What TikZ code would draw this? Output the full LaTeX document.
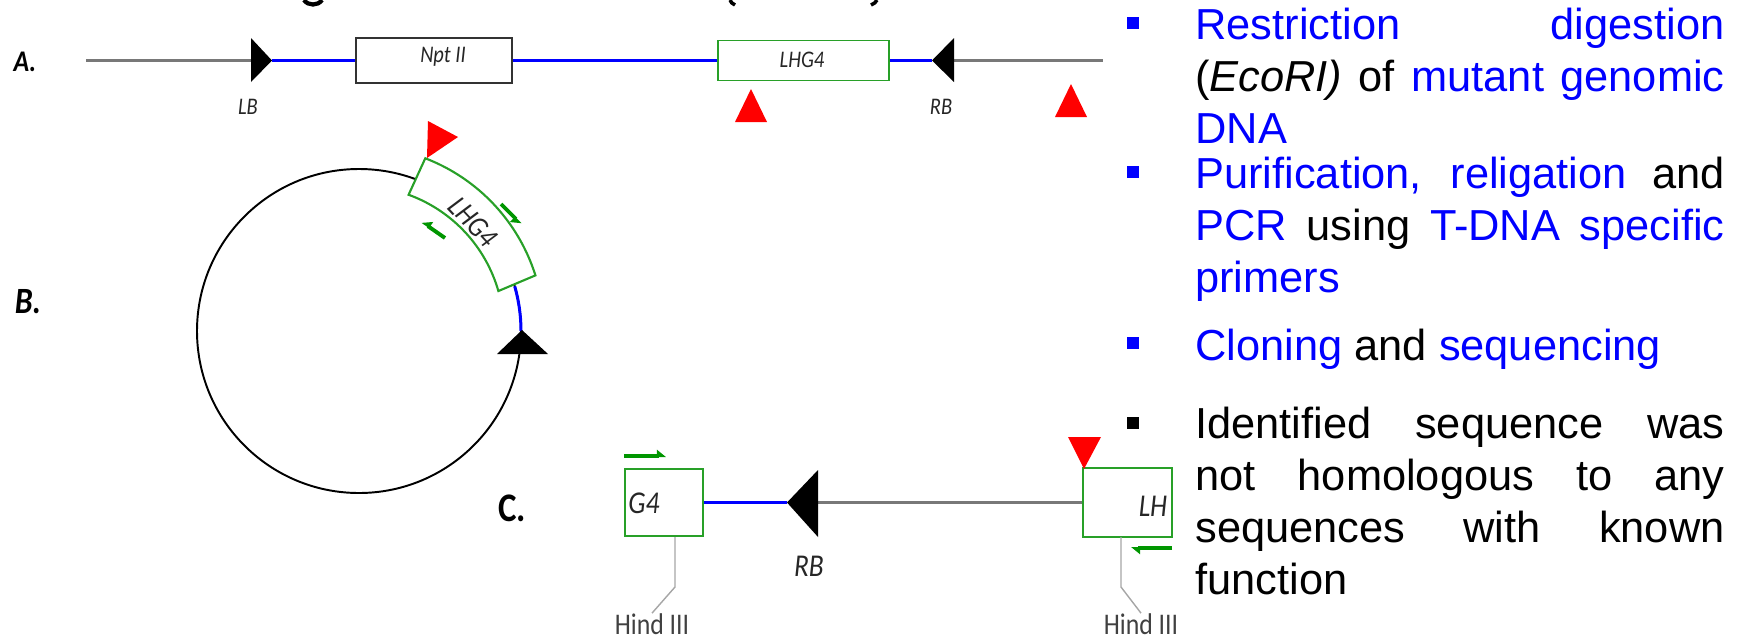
\documentclass[tikz,border=0pt]{standalone}
\usepackage{fontspec}
\setmainfont{Liberation Sans}
\newfontfamily\labelfont[FakeStretch=0.86]{Carlito}
\usetikzlibrary{arrows.meta}
\definecolor{tdnablue}{RGB}{0,0,255}
\definecolor{genegreen}{RGB}{40,160,40}
\definecolor{primergreen}{RGB}{0,150,0}
\definecolor{backbone}{RGB}{120,120,120}
\newcommand{\fitline}[1]{\makebox[300pt][s]{#1}}
\newcommand{\bl}[1]{\textcolor{tdnablue}{#1}}
\tikzset{
  tdna/.style={draw=tdnablue,line width=1.7pt},
  vector/.style={draw=backbone,line width=1.5pt},
  genebox/.style={draw=genegreen,line width=1.1pt,inner sep=0pt},
  markerbox/.style={draw=black!80,line width=1.1pt,inner sep=0pt},
  primer/.style={draw=primergreen,line width=2.2pt,-{Stealth[harpoon,length=4.5pt,width=7pt,inset=0pt]}},
  primerswap/.style={draw=primergreen,line width=2.2pt,-{Stealth[harpoon,swap,length=4.5pt,width=7pt,inset=0pt]}},
  site/.style={draw=black!35,line width=.8pt},
  partlabel/.style={font=\labelfont\bfseries,inner sep=0pt},
  smalllabel/.style={font=\labelfont\itshape\fontsize{13.5}{13.5}\selectfont,inner sep=0pt,text=black!85},
  biglabel/.style={font=\labelfont\itshape\fontsize{18}{18}\selectfont,inner sep=0pt,text=black!85},
  sitelabel/.style={font=\labelfont\fontsize{17}{17}\selectfont,inner sep=0pt,text=black!75},
  bodytext/.style={anchor=north west,align=left,inner sep=0pt,font=\fontsize{24.6}{29.48}\selectfont},
  bulletmark/.style={fill=#1,inner sep=0pt,minimum size=6.8pt}
}
\begin{document}
\begin{tikzpicture}[x=0.5669pt,y=-0.5669pt]
  \useasboundingbox (0,0) rectangle (1739,638);
  \draw[line width=2.4pt] (304,0) .. controls (308,6) and (318,6) .. (322,0);
  \draw[line width=2pt] (730,0) .. controls (731,2) and (732,4) .. (735,5);
  \draw[line width=2pt] (877,0) .. controls (876,2) and (874,4) .. (871,5);

  \node[partlabel,font=\labelfont\bfseries\itshape\fontsize{17}{17}\selectfont] (parta) at (25,62) {A.};
  \node[markerbox,minimum width=88.4pt,minimum height=25.5pt] (nptbox) at (434,60.5) {};
  \node[genebox,minimum width=96.9pt,minimum height=22.7pt] (lhgbox) at (803.5,60.5) {};
  \node[smalllabel] (nptlabel) at (443,57) {Npt II};
  \node[smalllabel] (lhglabel) at (802,60) {LHG4};
  \node[smalllabel] (lblabel) at (248,107) {LB};
  \node[smalllabel] (rblabel) at (941,107) {RB};
  \coordinate (aleft) at (86,60.5);
  \coordinate (aright) at (1103,60.5);
  \coordinate (lbtip) at (272,60.5);
  \coordinate (lbbase) at (251,60.5);
  \coordinate (rbtip) at (932,60.5);
  \coordinate (rbbase) at (954,60.5);
  \draw[vector] (aleft) -- (lbbase);
  \draw[tdna] (lbtip) -- (nptbox);
  \draw[tdna] (nptbox) -- (lhgbox);
  \draw[tdna] (lhgbox) -- (rbtip);
  \draw[vector] (rbbase) -- (aright);
  \fill (251,38) -- (lbtip) -- (251,82) -- cycle;
  \fill (954,38) -- (rbtip) -- (954,82) -- cycle;
  \fill[red] (735,122) -- (751,89) -- (767,122) -- cycle;
  \fill[red] (1055,117) -- (1071,84) -- (1087,117) -- cycle;

  \node[partlabel,font=\labelfont\bfseries\itshape\fontsize{21}{21}\selectfont] (partb) at (28,302) {B.};
  \coordinate (ringcentre) at (359,331);
  \draw[black,line width=1.1pt] (ringcentre) circle[radius=162];
  \draw[tdna] ([shift={(-16:162)}]ringcentre) arc[start angle=-16,end angle=0,radius=162];
  \draw[genegreen,line width=1.2pt,fill=white] ([shift={(-69:185)}]ringcentre) arc[start angle=-69,end angle=-17.5,radius=185]
    -- ([shift={(-16:145)}]ringcentre) arc[start angle=-16,end angle=-70,radius=145] -- cycle;
  \node[smalllabel,rotate=-47,font=\labelfont\itshape\fontsize{17}{17}\selectfont] (ringlabel) at (473,222) {LHG4};
  \coordinate (outerfrom) at (501,204);
  \coordinate (outerto) at (521,224);
  \coordinate (innerfrom) at (445,238);
  \coordinate (innerto) at (422,222);
  \draw[primerswap] (outerfrom) -- (outerto);
  \draw[primerswap] (innerfrom) -- (innerto);
  \fill[red] (428,121) -- (458,137) -- (427,158) -- cycle;
  \fill (522,330) -- (548,354) -- (497,354) -- cycle;

  \node[partlabel,font=\labelfont\bfseries\fontsize{23}{23}\selectfont] (partc) at (512,508) {C.};
  \node[genebox,minimum width=44.2pt,minimum height=38.5pt] (gfourbox) at (664,502.5) {};
  \node[genebox,minimum width=50.4pt,minimum height=39pt] (lhbox) at (1127.5,502.5) {};
  \node[biglabel] (gfourlabel) at (644,503) {G4};
  \node[biglabel] (lhlabel) at (1153,506) {LH};
  \node[biglabel] (rbclabel) at (809,566) {RB};
  \coordinate (rbctip) at (787,502.5);
  \coordinate (rbcbase) at (818,502.5);
  \draw[tdna,line width=2pt] (gfourbox) -- (rbctip);
  \draw[vector] (rbcbase) -- (lhbox);
  \fill (818,470) -- (rbctip) -- (818,537) -- cycle;
  \fill[red] (1068,437) -- (1101,437) -- (1084,469) -- cycle;
  \coordinate (topfrom) at (624,456);
  \coordinate (topto) at (666,456);
  \coordinate (lowfrom) at (1172,548);
  \coordinate (lowto) at (1131,548);
  \draw[primer] (topfrom) -- (topto);
  \draw[primer] (lowfrom) -- (lowto);
  \node[sitelabel] (hindleft) at (652,624) {Hind III};
  \node[sitelabel] (hindright) at (1141,624) {Hind III};
  \coordinate (leftstub) at (675,537);
  \coordinate (rightstub) at (1121,537);
  \draw[site] (leftstub) -- (675,587) -- (hindleft.north);
  \draw[site] (rightstub) -- (1121,587) -- (hindright.north);

  \node[bulletmark=tdnablue] (bulletone) at (1133,23) {};
  \node[bulletmark=tdnablue] (bullettwo) at (1133,172) {};
  \node[bulletmark=tdnablue] (bulletthree) at (1133,343) {};
  \node[bulletmark=black] (bulletfour) at (1133,423) {};
  \node[bodytext] (stepone) at (1195,8) {\fitline{\bl{Restriction} \bl{digestion}}\\
    \fitline{(\textit{EcoRI)} of \bl{mutant} \bl{genomic}}\\ \bl{DNA}};
  \node[bodytext] (steptwo) at (1195,157) {\fitline{\bl{Purification,} \bl{religation} and}\\
    \fitline{\bl{PCR} using \bl{T-DNA} \bl{specific}}\\ \bl{primers}};
  \node[bodytext] (stepthree) at (1195,329) {\bl{Cloning} and \bl{sequencing}};
  \node[bodytext] (stepfour) at (1195,407) {\fitline{Identified sequence was}\\
    \fitline{not homologous to any}\\ \fitline{sequences with known}\\ function};
\end{tikzpicture}
\end{document}
